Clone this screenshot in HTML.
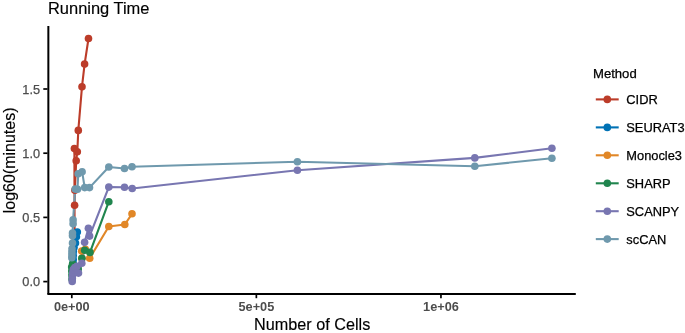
<!DOCTYPE html>
<html><head><meta charset="utf-8"><title>Running Time</title>
<style>html,body{margin:0;padding:0;background:#fff;overflow:hidden}body{width:685px;height:333px;font-family:"Liberation Sans",sans-serif}</style></head>
<body>
<svg width="685" height="333" viewBox="0 0 685 333" style="display:block;will-change:transform">
<rect width="685" height="333" fill="#fff"/>
<g fill="none" stroke-width="2.1" stroke-linejoin="round" stroke-linecap="butt">
<polyline stroke="#BC3C29" points="72.3,280.5 72.5,275.5 72.8,272.5 73.0,268.0 73.4,259.5 73.5,252.5 75.2,243.2 74.6,232.5 74.4,148.5 74.6,205.3 74.9,190.3 76.2,160.8 77.3,151.7 78.3,130.4 82.0,86.7 84.6,64.1 88.5,38.5"/>
<polyline stroke="#0072B5" points="72.3,278.5 72.5,275.5 72.8,272.5 73.0,268.0 73.2,263.5 73.2,259.5 73.2,255.5 73.3,251.5 74.0,247.4 75.5,243.0 76.4,236.7 77.3,232.1"/>
<polyline stroke="#E18727" points="72.3,278.5 72.8,272.5 74.8,267.5 77.0,266.2 81.8,263.2 81.9,258.3 81.7,251.1 85.4,249.3 89.7,258.2 108.8,226.5 124.8,224.5 132.0,213.8"/>
<polyline stroke="#20854E" points="72.0,279.0 71.9,275.0 71.8,271.0 71.7,267.0 72.6,263.8 76.0,268.0 78.2,269.0 81.9,258.3 84.7,250.2 90.0,252.4 108.8,201.7"/>
<polyline stroke="#7876B1" points="72.2,281.4 72.3,278.5 72.5,275.5 72.8,272.5 73.3,269.5 74.8,267.5 77.0,266.2 78.5,273.1 81.8,263.2 84.6,242.3 88.4,228.2 89.6,236.1 108.8,187.1 124.5,187.3 132.2,188.5 297.4,170.2 474.8,157.9 551.9,148.2"/>
<polyline stroke="#6F99AD" points="71.8,257.8 71.9,255.0 71.9,252.0 72.0,248.8 72.5,243.0 72.5,235.7 72.5,233.1 73.1,223.8 73.1,219.9 75.2,189.1 77.5,189.3 78.2,173.8 82.1,171.7 84.7,187.6 89.5,187.6 108.8,167.0 124.5,168.5 132.0,166.7 297.4,161.7 474.8,166.3 551.9,158.2"/>
</g>
<g fill="#BC3C29">
<circle cx="74.4" cy="148.5" r="3.8"/>
<circle cx="74.6" cy="205.3" r="3.8"/>
<circle cx="74.9" cy="190.3" r="3.8"/>
<circle cx="76.2" cy="160.8" r="3.8"/>
<circle cx="77.3" cy="151.7" r="3.8"/>
<circle cx="78.3" cy="130.4" r="3.8"/>
<circle cx="82.0" cy="86.7" r="3.8"/>
<circle cx="84.6" cy="64.1" r="3.8"/>
<circle cx="88.5" cy="38.5" r="3.8"/>
</g>
<g fill="#0072B5">
<circle cx="73.2" cy="263.5" r="3.8"/>
<circle cx="73.2" cy="259.5" r="3.8"/>
<circle cx="73.2" cy="255.5" r="3.8"/>
<circle cx="73.3" cy="251.5" r="3.8"/>
<circle cx="74.0" cy="247.4" r="3.8"/>
<circle cx="75.5" cy="243.0" r="3.8"/>
<circle cx="76.4" cy="236.7" r="3.8"/>
<circle cx="77.3" cy="232.1" r="3.8"/>
</g>
<g fill="#E18727">
<circle cx="81.9" cy="258.3" r="3.8"/>
<circle cx="81.7" cy="251.1" r="3.8"/>
<circle cx="85.4" cy="249.3" r="3.8"/>
<circle cx="89.7" cy="258.2" r="3.8"/>
<circle cx="108.8" cy="226.5" r="3.8"/>
<circle cx="124.8" cy="224.5" r="3.8"/>
<circle cx="132.0" cy="213.8" r="3.8"/>
</g>
<g fill="#20854E">
<circle cx="72.0" cy="279.0" r="3.8"/>
<circle cx="71.9" cy="275.0" r="3.8"/>
<circle cx="71.8" cy="271.0" r="3.8"/>
<circle cx="71.7" cy="267.0" r="3.8"/>
<circle cx="72.6" cy="263.8" r="3.8"/>
<circle cx="76.0" cy="268.0" r="3.8"/>
<circle cx="78.2" cy="269.0" r="3.8"/>
<circle cx="81.9" cy="258.3" r="3.8"/>
<circle cx="84.7" cy="250.2" r="3.8"/>
<circle cx="90.0" cy="252.4" r="3.8"/>
<circle cx="108.8" cy="201.7" r="3.8"/>
</g>
<g fill="#7876B1">
<circle cx="72.2" cy="281.4" r="3.8"/>
<circle cx="72.3" cy="278.5" r="3.8"/>
<circle cx="72.5" cy="275.5" r="3.8"/>
<circle cx="72.8" cy="272.5" r="3.8"/>
<circle cx="73.3" cy="269.5" r="3.8"/>
<circle cx="74.8" cy="267.5" r="3.8"/>
<circle cx="77.0" cy="266.2" r="3.8"/>
<circle cx="78.5" cy="273.1" r="3.8"/>
<circle cx="81.8" cy="263.2" r="3.8"/>
<circle cx="84.6" cy="242.3" r="3.8"/>
<circle cx="88.4" cy="228.2" r="3.8"/>
<circle cx="89.6" cy="236.1" r="3.8"/>
<circle cx="108.8" cy="187.1" r="3.8"/>
<circle cx="124.5" cy="187.3" r="3.8"/>
<circle cx="132.2" cy="188.5" r="3.8"/>
<circle cx="297.4" cy="170.2" r="3.8"/>
<circle cx="474.8" cy="157.9" r="3.8"/>
<circle cx="551.9" cy="148.2" r="3.8"/>
</g>
<g fill="#6F99AD">
<circle cx="71.8" cy="257.8" r="3.8"/>
<circle cx="71.9" cy="255.0" r="3.8"/>
<circle cx="71.9" cy="252.0" r="3.8"/>
<circle cx="72.0" cy="248.8" r="3.8"/>
<circle cx="72.5" cy="243.0" r="3.8"/>
<circle cx="72.5" cy="235.7" r="3.8"/>
<circle cx="72.5" cy="233.1" r="3.8"/>
<circle cx="73.1" cy="223.8" r="3.8"/>
<circle cx="73.1" cy="219.9" r="3.8"/>
<circle cx="75.2" cy="189.1" r="3.8"/>
<circle cx="77.5" cy="189.3" r="3.8"/>
<circle cx="78.2" cy="173.8" r="3.8"/>
<circle cx="82.1" cy="171.7" r="3.8"/>
<circle cx="84.7" cy="187.6" r="3.8"/>
<circle cx="89.5" cy="187.6" r="3.8"/>
<circle cx="108.8" cy="167.0" r="3.8"/>
<circle cx="124.5" cy="168.5" r="3.8"/>
<circle cx="132.0" cy="166.7" r="3.8"/>
<circle cx="297.4" cy="161.7" r="3.8"/>
<circle cx="474.8" cy="166.3" r="3.8"/>
<circle cx="551.9" cy="158.2" r="3.8"/>
</g>
<g stroke="#000" stroke-width="2" fill="none" stroke-linecap="butt">
<path d="M48.35,26 V294"/>
<path d="M47.35,294 H575.8"/>
</g>
<g stroke="#000" stroke-width="1.7" fill="none">
<path d="M43.3,281.6 H47.5"/>
<path d="M43.3,217.4 H47.5"/>
<path d="M43.3,153.2 H47.5"/>
<path d="M43.3,89.0 H47.5"/>
<path d="M71.8,294.5 V298.2"/>
<path d="M256.35,294.5 V298.2"/>
<path d="M440.95,294.5 V298.2"/>
</g>
<g font-family="Liberation Sans, sans-serif" font-size="12.75" fill="#4D4D4D" stroke="#4D4D4D" stroke-width="0.25">
<text x="40.1" y="286.20000000000005" text-anchor="end">0.0</text>
<text x="40.1" y="222.0" text-anchor="end">0.5</text>
<text x="40.1" y="157.79999999999998" text-anchor="end">1.0</text>
<text x="40.1" y="93.6" text-anchor="end">1.5</text>
<text x="71.8" y="311.2" text-anchor="middle" font-weight="bold" stroke="none">0e+00</text>
<text x="256.4" y="311.2" text-anchor="middle" font-weight="bold" stroke="none">5e+05</text>
<text x="441.0" y="311.2" text-anchor="middle" font-weight="bold" stroke="none">1e+06</text>
</g>
<g font-family="Liberation Sans, sans-serif" font-size="16" fill="#000" stroke="#000" stroke-width="0.15">
<text x="48" y="13.5" textLength="101.4" lengthAdjust="spacingAndGlyphs">Running Time</text>
<text x="312.2" y="329.7" text-anchor="middle" textLength="116.2" lengthAdjust="spacingAndGlyphs">Number of Cells</text>
<text transform="translate(14.6,160.4) rotate(-90)" text-anchor="middle">log60(minutes)</text>
</g>
<g font-family="Liberation Sans, sans-serif" font-size="12.85" fill="#000">
<text x="593" y="77.8" font-size="13.1" stroke="#000" stroke-width="0.25">Method</text>
<path d="M595.8,99.4 H618.7" stroke="#BC3C29" stroke-width="2.1"/>
<circle cx="607.3" cy="99.4" r="3.8" fill="#BC3C29"/>
<text x="626.3" y="104.0" stroke="#000" stroke-width="0.25">CIDR</text>
<path d="M595.8,127.4 H618.7" stroke="#0072B5" stroke-width="2.1"/>
<circle cx="607.3" cy="127.4" r="3.8" fill="#0072B5"/>
<text x="626.3" y="132.0" stroke="#000" stroke-width="0.25">SEURAT3</text>
<path d="M595.8,155.3 H618.7" stroke="#E18727" stroke-width="2.1"/>
<circle cx="607.3" cy="155.3" r="3.8" fill="#E18727"/>
<text x="626.3" y="159.9" stroke="#000" stroke-width="0.25">Monocle3</text>
<path d="M595.8,183.3 H618.7" stroke="#20854E" stroke-width="2.1"/>
<circle cx="607.3" cy="183.3" r="3.8" fill="#20854E"/>
<text x="626.3" y="187.9" stroke="#000" stroke-width="0.25">SHARP</text>
<path d="M595.8,211.2 H618.7" stroke="#7876B1" stroke-width="2.1"/>
<circle cx="607.3" cy="211.2" r="3.8" fill="#7876B1"/>
<text x="626.3" y="215.79999999999998" stroke="#000" stroke-width="0.25">SCANPY</text>
<path d="M595.8,239.1 H618.7" stroke="#6F99AD" stroke-width="2.1"/>
<circle cx="607.3" cy="239.1" r="3.8" fill="#6F99AD"/>
<text x="626.3" y="243.7" stroke="#000" stroke-width="0.25">scCAN</text>
</g>
</svg>
</body></html>
